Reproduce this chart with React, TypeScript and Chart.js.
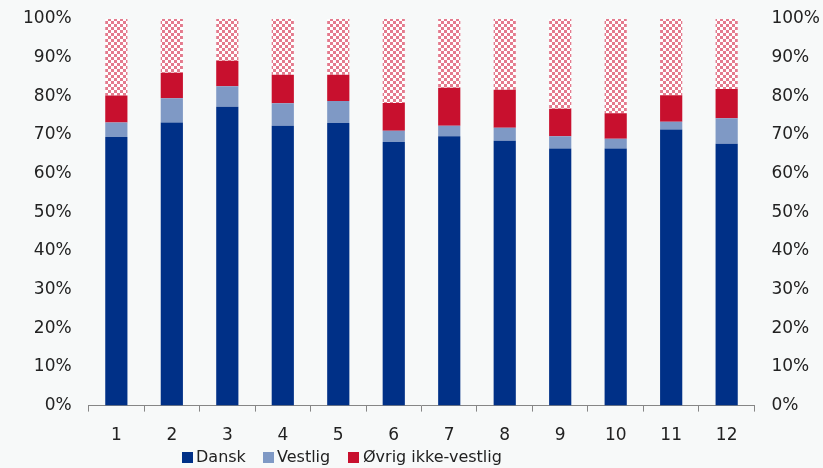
import React, { useEffect, useRef } from "react";
import { Chart, registerables } from "chart.js";

Chart.register(...registerables);

const categories = ["1", "2", "3", "4", "5", "6", "7", "8", "9", "10", "11", "12"];
const dansk = [69.5, 73.2, 77.3, 72.4, 73.1, 68.2, 69.7, 68.5, 66.5, 66.5, 71.4, 67.7];
const vestlig = [3.7, 6.3, 5.3, 5.8, 5.7, 2.9, 2.7, 3.4, 3.2, 2.5, 2.0, 6.6];
const ovrig = [7.0, 6.6, 6.6, 7.4, 6.8, 7.2, 9.8, 9.8, 7.1, 6.6, 6.9, 7.6];
const rest = [19.8, 13.9, 10.8, 14.4, 14.4, 21.7, 17.8, 18.3, 23.2, 24.4, 19.7, 18.1];
const seriesNames = ["Dansk", "Vestlig", "Øvrig ikke-vestlig"];

const FONT = "'DejaVu Sans', Verdana, sans-serif";
const BG = "#f7f9f9";
const COLORS = ["#003087", "#7f99c5", "#c8102e"];

function makePattern(): CanvasPattern | string {
  const c = document.createElement("canvas");
  c.width = 6;
  c.height = 6;
  const ctx = c.getContext("2d");
  if (!ctx) return "#f0b0bb";
  ctx.fillStyle = "#ffffff";
  ctx.fillRect(0, 0, 6, 6);
  ctx.fillStyle = "#e47b8e";
  ctx.fillRect(0, 0, 3, 3);
  ctx.fillRect(3, 3, 3, 3);
  return ctx.createPattern(c, "repeat") || "#f0b0bb";
}

export default function App() {
  const ref = useRef<HTMLCanvasElement | null>(null);

  useEffect(() => {
    document.body.style.margin = "0";
    document.body.style.background = BG;
    const canvas = ref.current;
    if (!canvas) return;
    const tickFont = { family: FONT, size: 17 };
    const pct = (v: any) => `${v}%`;
    const noVPad = (s: any) => {
      s.paddingTop = 0;
      s.paddingBottom = 0;
    };
    const chart = new Chart(canvas, {
      type: "bar",
      data: {
        labels: categories,
        datasets: [
          { label: seriesNames[0], data: dansk, backgroundColor: COLORS[0] },
          { label: seriesNames[1], data: vestlig, backgroundColor: COLORS[1] },
          { label: seriesNames[2], data: ovrig, backgroundColor: COLORS[2] },
          { label: "", data: rest, backgroundColor: makePattern() as any },
        ],
      },
      options: {
        responsive: false,
        animation: false,
        datasets: { bar: { barPercentage: 0.4, categoryPercentage: 1.0, borderWidth: 0 } },
        layout: { padding: { left: 6, right: -14, top: 19, bottom: 8 } },
        plugins: { legend: { display: false }, tooltip: { enabled: false } },
        scales: {
          x: {
            stacked: true,
            offset: true,
            grid: {
              display: true,
              offset: true,
              drawOnChartArea: false,
              drawTicks: true,
              tickLength: 6,
              color: "#868686",
            },
            border: { display: true, color: "#868686" },
            ticks: { font: tickFont, color: "#222", padding: 14, maxRotation: 0 },
          },
          y: {
            stacked: true,
            position: "left",
            min: 0,
            max: 100,
            afterFit: noVPad,
            grid: { display: false, drawTicks: false },
            border: { display: false },
            ticks: { stepSize: 10, callback: pct, font: tickFont, color: "#222", padding: 17 },
          },
          y2: {
            position: "right",
            min: 0,
            max: 100,
            afterFit: noVPad,
            grid: { display: false, drawTicks: false },
            border: { display: false },
            ticks: { stepSize: 10, callback: pct, font: tickFont, color: "#222", padding: 17 },
          },
        },
      },
    });
    return () => chart.destroy();
  }, []);

  const legendPos = [
    { box: 182, text: 196 },
    { box: 263, text: 277 },
    { box: 348, text: 363 },
  ];

  return (
    <div style={{ position: "relative", width: 823, height: 468, background: BG }}>
      <canvas ref={ref} width={823} height={468} style={{ display: "block" }} />
      {seriesNames.map((name, i) => (
        <React.Fragment key={name}>
          <div
            style={{
              position: "absolute",
              left: legendPos[i].box,
              top: 452,
              width: 11,
              height: 11,
              background: COLORS[i],
            }}
          />
          <div
            style={{
              position: "absolute",
              left: legendPos[i].text,
              top: 447,
              fontFamily: FONT,
              fontSize: 16,
              lineHeight: "20px",
              color: "#222",
              whiteSpace: "nowrap",
            }}
          >
            {name}
          </div>
        </React.Fragment>
      ))}
    </div>
  );
}
